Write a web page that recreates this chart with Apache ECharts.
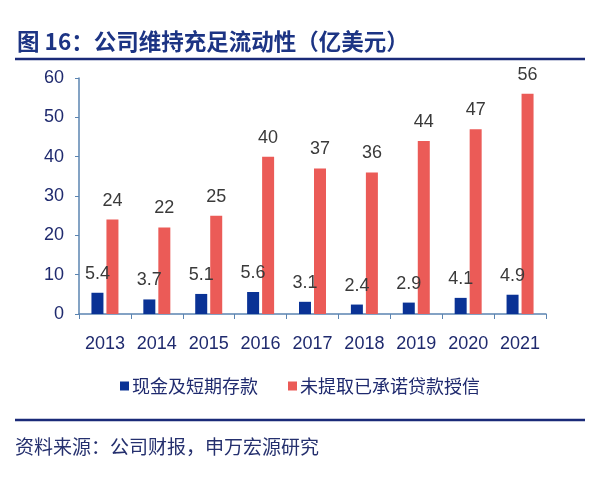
<!DOCTYPE html>
<html>
<head>
<meta charset="utf-8">
<script src="https://cdn.jsdelivr.net/npm/echarts@6/dist/echarts.min.js"></script>
<style>
  html, body { margin: 0; padding: 0; background: #fff; }
  #chart { width: 600px; height: 485px; }
</style>
</head>
<body>
<div id="chart"></div>
<script>
const years = ['2013', '2014', '2015', '2016', '2017', '2018', '2019', '2020', '2021'];
const cash = [5.4, 3.7, 5.1, 5.6, 3.1, 2.4, 2.9, 4.1, 4.9];
const credit = [24, 22, 25, 40, 37, 36, 44, 47, 56];
const seriesNames = ['现金及短期存款', '未提取已承诺贷款授信'];

const navy = '#1f2a6e';
const font = 'Liberation Sans, Arial, Noto Sans CJK SC, sans-serif';
const cjk = 'Noto Sans CJK SC, sans-serif';

const chart = echarts.init(document.getElementById('chart'));
const option = {
  animation: false,
  title: {
    text: '图 16：公司维持充足流动性（亿美元）',
    left: 12,
    top: 25,
    textStyle: { fontFamily: cjk, fontSize: 22.5, fontWeight: 'bold', color: '#1c3484' }
  },
  graphic: [
    { type: 'line', shape: { x1: 15, y1: 59, x2: 585, y2: 59 }, style: { stroke: '#1a2a78', lineWidth: 2.5 } },
    { type: 'line', shape: { x1: 15, y1: 420, x2: 585, y2: 420 }, style: { stroke: '#1a2a78', lineWidth: 2.5 } },
    {
      type: 'text', left: 15, top: 437,
      style: { text: '资料来源：公司财报，申万宏源研究', fontFamily: cjk, fontSize: 19, fill: '#25306e' }
    }
  ],
  legend: {
    data: seriesNames,
    top: 372,
    left: 'center',
    itemWidth: 9,
    itemHeight: 9,
    itemGap: 30,
    icon: 'rect',
    textStyle: { fontFamily: cjk, fontSize: 18, color: navy, padding: [0, 0, 0, -2] }
  },
  grid: { left: 79, right: 54, top: 78, bottom: 171, containLabel: false },
  xAxis: {
    type: 'category',
    data: years,
    axisLine: { lineStyle: { color: '#5b84b1', width: 1.5 } },
    axisTick: { show: true, length: 5, lineStyle: { color: '#5b84b1' } },
    axisLabel: { interval: 0, fontFamily: font, fontSize: 18, color: navy, margin: 21 }
  },
  yAxis: {
    type: 'value',
    min: 0,
    max: 60,
    interval: 10,
    splitLine: { show: false },
    axisLine: { show: true, lineStyle: { color: '#5b84b1', width: 1.5 } },
    axisTick: { show: true, length: 4, lineStyle: { color: '#5b84b1' } },
    axisLabel: { fontFamily: font, fontSize: 18, color: navy, margin: 15 }
  },
  series: [
    {
      name: seriesNames[0],
      type: 'bar',
      data: cash,
      barWidth: 12,
      barGap: '25%',
      itemStyle: { color: '#0a3295' },
      label: { show: true, position: 'top', distance: 10, fontFamily: font, fontSize: 18, color: '#3a3a3a' }
    },
    {
      name: seriesNames[1],
      type: 'bar',
      data: credit,
      barWidth: 12,
      itemStyle: { color: '#eb5b57' },
      label: { show: true, position: 'top', distance: 10, fontFamily: font, fontSize: 18, color: '#3a3a3a' }
    }
  ]
};
chart.setOption(option);
</script>
</body>
</html>
